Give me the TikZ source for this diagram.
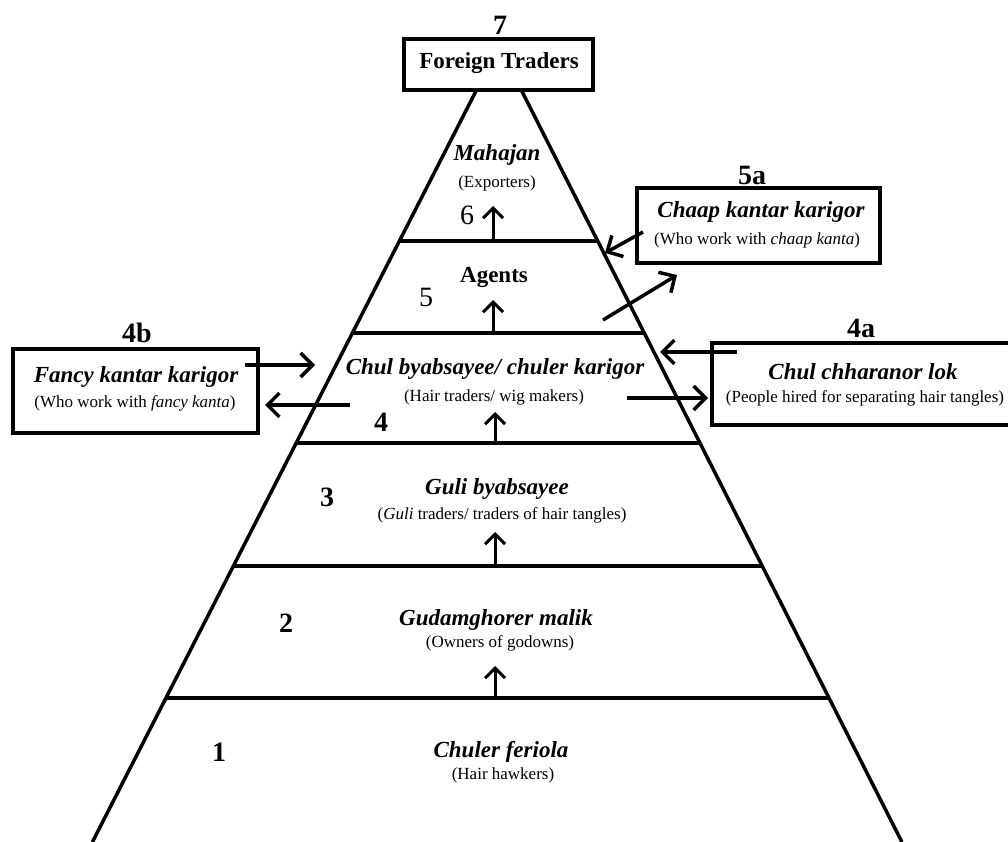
\documentclass[tikz,border=0pt]{standalone}
\usepackage{fontspec}
\setmainfont{Liberation Serif}
\usetikzlibrary{arrows.meta,calc}
\tikzset{
    edge/.style={line width=3.5pt},
    flow/.style={-{Straight Barb[length=12pt,width=24pt]}, line width=3.5pt},
    rise/.style={-{Straight Barb[length=10pt,width=20pt]}, line width=3pt},
    outbox/.style={draw, line width=3.5pt, fill=white, inner sep=0pt},
    tier/.style={font=\fontsize{23}{27}\selectfont\bfseries\itshape},
    tier plain/.style={font=\fontsize{23}{27}\selectfont\bfseries},
    tiernote/.style={font=\fontsize{17}{20}\selectfont},
    rank/.style={font=\fontsize{28}{32}\selectfont\bfseries},
    rank light/.style={font=\fontsize{28}{32}\selectfont},
}
\newcommand{\tierarrow}[4]{
    \coordinate (#1 foot) at (#2,#3);
    \coordinate (#1 head) at (#2,#4);
    \draw[rise] (#1 foot) -- (#1 head);
}
\newcommand{\sidearrow}[3]{
    \coordinate (#1 tail) at (#2);
    \coordinate (#1 tip) at (#3);
    \draw[flow] (#1 tail) -- (#1 tip);
}

\begin{document}
\begin{tikzpicture}[x=1pt,y=-1pt]
    \useasboundingbox (0,0) rectangle (1008,842);
    \clip (0,0) rectangle (1008,842);

    % pyramid
    \coordinate (apex) at (499,46);
    \coordinate (base left) at (92.4,842);
    \coordinate (base right) at (901.9,842);
    \draw[edge] (base left) -- (apex) -- (base right);
    \foreach \yy in {241,333,443,566,698} {
        \draw[edge] ($(apex)!{(\yy-46)/796}!(base left)$)
            -- ($(apex)!{(\yy-46)/796}!(base right)$);
    }

    % top
    \node[rank] (n7) at (500,25) {7};
    \node[outbox, minimum width=189pt, minimum height=51pt] (foreign) at (498.5,64.5) {};
    \node[tier plain] (foreigntxt) at (499,63.5) {Foreign Traders};

    % levels
    \node[tier] (mahajan) at (497,155) {Mahajan};
    \node[tiernote] (mahajansub) at (497,183) {(Exporters)};
    \node[rank light] (n6) at (467,215) {6};
    \tierarrow{up6}{493}{241}{206}

    \node[tier plain] (agents) at (494,277) {Agents};
    \node[rank light] (n5) at (426,297) {5};
    \tierarrow{up5}{493}{333}{300}

    \node[tier] (chul) at (495,369) {Chul byabsayee/ chuler karigor};
    \node[tiernote] (chulsub) at (494,397) {(Hair traders/ wig makers)};
    \node[rank] (n4) at (381,422) {4};
    \tierarrow{up4}{495}{443}{412}

    \node[tier] (guli) at (497,489) {Guli byabsayee};
    \node[tiernote] (gulisub) at (502,515) {(\textit{Guli} traders/ traders of hair tangles)};
    \node[rank] (n3) at (327,497) {3};
    \tierarrow{up3}{495}{566}{532}

    \node[tier] (gudam) at (496,620) {Gudamghorer malik};
    \node[tiernote] (gudamsub) at (500,643) {(Owners of godowns)};
    \node[rank] (n2) at (286,623) {2};
    \tierarrow{up2}{495}{698}{666}

    \node[tier] (feriola) at (501,752) {Chuler feriola};
    \node[tiernote] (feriolasub) at (503,775) {(Hair hawkers)};
    \node[rank] (n1) at (219,752) {1};

    % 5a
    \node[rank] (n5a) at (752,175) {5a};
    \node[outbox, minimum width=243pt, minimum height=75pt] (chaap) at (758.5,225.5) {};
    \node[tier] (chaaptxt) at (761,212) {Chaap kantar karigor};
    \node[tiernote] (chaapsub) at (757,240) {(Who work with \textit{chaap kanta})};
    \sidearrow{in5a}{643,232}{605,253}
    \sidearrow{out5a}{603,320}{677,275}

    % 4b
    \node[rank] (n4b) at (137,333) {4b};
    \node[outbox, minimum width=245pt, minimum height=84pt] (fancy) at (135.5,391) {};
    \node[tier] (fancytxt) at (136,377) {Fancy kantar karigor};
    \node[tiernote] (fancysub) at (135,403) {(Who work with \textit{fancy kanta})};
    \sidearrow{in4b}{245,365}{315,365}
    \sidearrow{out4b}{350,405}{265,405}

    % 4a
    \node[rank] (n4a) at (861,328) {4a};
    \node[outbox, minimum width=300pt, minimum height=82pt] (chharanor) at (862,384) {};
    \node[tier] (chharanortxt) at (863,371.5) {Chul chharanor lok};
    \node[tiernote] (chharanorsub) at (865,398) {(People hired for separating hair tangles)};
    \sidearrow{in4a}{737,352}{660,352}
    \sidearrow{out4a}{627,398}{708,398}

\end{tikzpicture}
\end{document}
